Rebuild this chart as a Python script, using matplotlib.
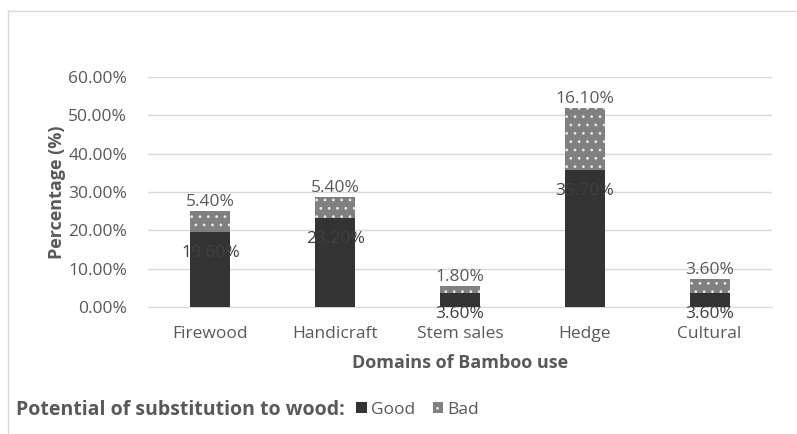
import matplotlib.pyplot as plt
from matplotlib.patches import Patch
from matplotlib.lines import Line2D
from matplotlib.ticker import FuncFormatter

categories = ["Firewood", "Handicraft", "Stem sales", "Hedge", "Cultural"]
good = [19.6, 23.2, 3.6, 35.7, 3.6]
bad = [5.4, 5.4, 1.8, 16.1, 3.6]
yticks = [0, 10, 20, 30, 40, 50, 60]

txt = "#595959"
plt.rcParams["font.family"] = ["Open Sans", "DejaVu Sans"]
plt.rcParams["hatch.linewidth"] = 0.8

fig = plt.figure(figsize=(7.97, 4.34), dpi=100)
ax = fig.add_axes([148 / 797, 1 - 307 / 434, 624 / 797, 230 / 434])

x = range(len(categories))
w = 0.32
b1 = ax.bar(x, good, width=w, color="#333333", zorder=3)
b2 = ax.bar(x, bad, width=w, bottom=good, color="#808080", edgecolor="#e6e6e6",
            hatch="..", linewidth=0, zorder=3)

for i in x:
    ax.annotate(f"{good[i]:.2f}%", (i, good[i]), xytext=(0, -15), textcoords="offset points",
                ha="center", va="center", fontsize=12.5, color="#404040", zorder=4)
    ax.annotate(f"{bad[i]:.2f}%", (i, good[i] + bad[i]), xytext=(0, 6.5), textcoords="offset points",
                ha="center", va="center", fontsize=12.5, color=txt, zorder=4)

ax.set_xlim(-0.5, 4.5)
ax.set_ylim(0, 60)
ax.set_yticks(yticks)
ax.yaxis.set_major_formatter(FuncFormatter(lambda v, p: f"{v:.2f}%"))
ax.set_xticks(list(x))
ax.set_xticklabels(categories)
ax.grid(axis="y", color="#d9d9d9", linewidth=1, zorder=0)
for s in ["top", "right", "left"]:
    ax.spines[s].set_visible(False)
ax.spines["bottom"].set_color("#d9d9d9")
ax.tick_params(length=0, labelsize=12.5, labelcolor=txt)
ax.tick_params(axis="y", pad=15)
ax.tick_params(axis="x", pad=14)
ax.set_ylabel("Percentage (%)", fontsize=13, fontweight="bold", color=txt, labelpad=2)
ax.set_xlabel("Domains of Bamboo use", fontsize=13, fontweight="bold", color=txt, labelpad=8)

# outer frame
fig.add_artist(Line2D([8 / 797, 1], [1 - 11 / 434] * 2, color="#d9d9d9", lw=1))
fig.add_artist(Line2D([8 / 797] * 2, [0, 1 - 11 / 434], color="#d9d9d9", lw=1))

fig.text(16 / 797, 1 - 410 / 434, "Potential of substitution to wood:", fontsize=14,
         fontweight="bold", color=txt, va="center")
handles = [Patch(facecolor="#333333"),
           Patch(facecolor="#808080", edgecolor="#e6e6e6", hatch="..", linewidth=0)]
fig.legend(handles, ["Good", "Bad"], loc="center left", bbox_to_anchor=(344 / 797, 1 - 410 / 434),
           ncol=2, frameon=False, fontsize=12.5, labelcolor=txt, handlelength=0.6,
           handleheight=0.6, handletextpad=0.25, columnspacing=1.0, borderpad=0.2)

fig.savefig("out.png", dpi=100)
